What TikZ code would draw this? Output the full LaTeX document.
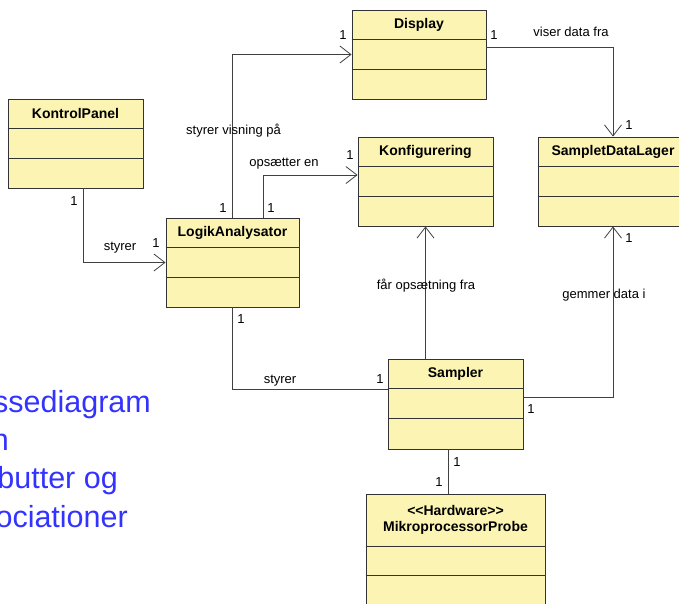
\documentclass[tikz,border=0pt]{standalone}
\usepackage{fontspec}
\setmainfont{Liberation Sans}
\usetikzlibrary{arrows.meta}

\definecolor{klassegul}{RGB}{251,244,178}
\definecolor{tekstblaa}{RGB}{51,51,255}

\tikzset{
  klasse/.style={draw=black!80, fill=klassegul, line width=0.9pt, inner sep=0pt},
  navn/.style={font=\fontsize{14}{16}\selectfont\bfseries, inner sep=0pt},
  assoc/.style={draw=black!75, line width=0.8pt},
  pil/.style={assoc, -{Straight Barb[length=11pt,width=17pt,line width=0.8pt]}},
  etiket/.style={font=\fontsize{13}{15}\selectfont, inner sep=0pt},
}

\begin{document}
\begin{tikzpicture}[x=1pt,y=-1pt]
  \useasboundingbox (0,0) rectangle (679,603);
  \clip (0,0) rectangle (679,603);

  % klasserne
  \node[klasse, minimum width=135pt, minimum height=89pt] (kontrol) at (75.5,143.5) {};
  \node[klasse, minimum width=133pt, minimum height=89pt] (logik) at (232.5,262.5) {};
  \node[klasse, minimum width=134pt, minimum height=89pt] (display) at (419,54.5) {};
  \node[klasse, minimum width=135pt, minimum height=89pt] (konfig) at (425.5,181.5) {};
  \node[klasse, minimum width=150pt, minimum height=89pt] (lager) at (613,181.5) {};
  \node[klasse, minimum width=135pt, minimum height=90pt] (sampler) at (455.5,404) {};
  \node[klasse, minimum width=179pt, minimum height=111pt] (probe) at (455.5,549.5) {};

  % skillelinjer
  \foreach \k in {kontrol,logik,display,konfig,lager,sampler} {
    \draw[klasse] ([yshift=-30pt]\k.north west) -- ([yshift=-30pt]\k.north east);
    \draw[klasse] ([yshift=-60pt]\k.north west) -- ([yshift=-60pt]\k.north east);
  }
  \draw[klasse] ([yshift=-53pt]probe.north west) -- ([yshift=-53pt]probe.north east);
  \draw[klasse] ([yshift=-82pt]probe.north west) -- ([yshift=-82pt]probe.north east);

  % navne
  \node[navn] at ([yshift=-15pt]kontrol.north) {KontrolPanel};
  \node[navn] at ([yshift=-15pt]logik.north) {LogikAnalysator};
  \node[navn] at ([yshift=-15pt]display.north) {Display};
  \node[navn] at ([yshift=-15pt]konfig.north) {Konfigurering};
  \node[navn] at ([yshift=-15pt]lager.north) {SampletDataLager};
  \node[navn] at ([yshift=-15pt]sampler.north) {Sampler};
  \node[navn, align=center] at ([yshift=-26.5pt]probe.north) {{<}{<}Hardware{>}{>}\\MikroprocessorProbe};

  % associationer
  \draw[pil] ([xshift=7.5pt]kontrol.south) |- (logik.west);
  \draw[pil] (logik.north) |- (display.west);
  \draw[pil] ([xshift=30.5pt]logik.north) |- ([yshift=6.5pt]konfig.west);
  \draw[pil] ([yshift=7.5pt]display.east) -| (lager.north);
  \draw[pil] (sampler.north -| konfig.south) -- (konfig.south);
  \draw[pil] ([yshift=7pt]sampler.east) -| (lager.south);
  \draw[assoc] (logik.south) |- ([yshift=15pt]sampler.west);
  \draw[assoc] ([xshift=-7.5pt]sampler.south) -- ([xshift=-7.5pt]probe.north);

  % roller og multipliciteter
  \node[etiket] at (74,201) {1};
  \node[etiket] at (120,248) {styrer};
  \node[etiket] at (156,243) {1};
  \node[etiket] at (233.5,131) {styrer visning på};
  \node[etiket] at (223,208) {1};
  \node[etiket] at (271,208) {1};
  \node[etiket] at (284,164) {opsætter en};
  \node[etiket] at (350,155) {1};
  \node[etiket] at (343,35) {1};
  \node[etiket] at (494,35) {1};
  \node[etiket] at (571,32) {viser data fra};
  \node[etiket] at (629,125) {1};
  \node[etiket] at (629,238) {1};
  \node[etiket] at (426,286) {får opsætning fra};
  \node[etiket] at (604,295) {gemmer data i};
  \node[etiket] at (241,319) {1};
  \node[etiket] at (280,381) {styrer};
  \node[etiket] at (380,379) {1};
  \node[etiket] at (531,409) {1};
  \node[etiket] at (457,462) {1};
  \node[etiket] at (439,482) {1};

  % blå tekst til venstre
  \begin{scope}[every node/.style={font=\fontsize{30.5}{36}\selectfont, text=tekstblaa, inner sep=0pt, anchor=base east}]
    \node (t1) at (151,412) {ssediagram};
    \node (t2) at (9,450) {n};
    \node (t3) at (118,488) {butter og};
    \node (t4) at (128,527) {ociationer};
  \end{scope}
\end{tikzpicture}
\end{document}
